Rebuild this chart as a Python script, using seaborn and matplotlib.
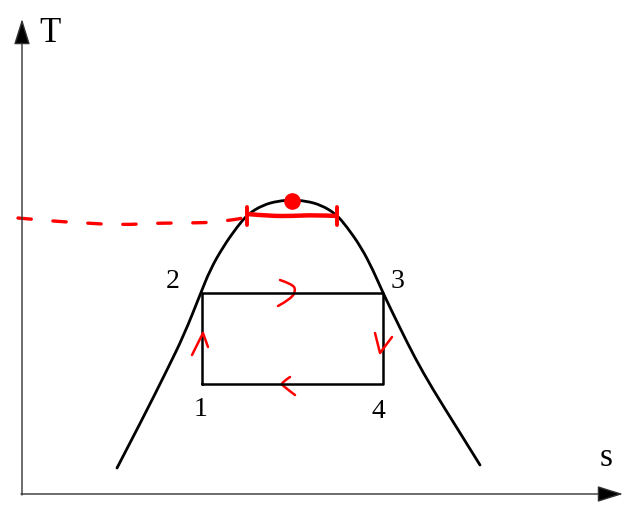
import matplotlib
matplotlib.use('Agg')
import matplotlib.pyplot as plt
from matplotlib.path import Path
from matplotlib.patches import PathPatch
import seaborn as sns
import numpy as np

# dome (saturation curve), pixel coordinates
dome_s = [117, 143, 167, 184, 200, 210, 223, 237, 248, 263, 278, 292, 306, 321, 336, 347, 361, 373, 383, 400, 415, 432, 457, 480]
dome_T = [468, 418, 370, 335, 295, 270, 247, 227, 214, 205, 201, 200, 201, 205, 214, 227, 247, 270, 293, 328, 358, 388, 428, 465]

# cycle 1-2-3-4
cycle_s = [202, 202, 383, 383, 202]
cycle_T = [384, 293, 293, 384, 384]
cycle_labels = ['1', '2', '3', '4']
label_s = [201, 173, 398, 378]
label_T = [410, 281, 281, 411]

# red hand-drawn marks
dash_s = [18, 50, 85, 120, 160, 192, 224, 248]
dash_T = [218, 221, 223, 225, 223, 223, 222, 217]
bar_s = [247, 270, 292, 315, 337]
bar_T = [214, 216, 216, 215, 216]
tick_s = [247, 337]
crit_s, crit_T = 292, 201
curved_glyphs = {
    'top': ([280, 292, 296, 291, 278], [280, 284, 290, 299, 306]),
    'bottom': ([290, 281, 283, 295], [377, 383, 386, 395]),
}
sharp_glyphs = {
    'left': ([192, 203, 208], [355, 333, 347]),
    'right': ([375, 380, 392], [333, 353, 337]),
}


def smooth_path(xs, ys):
    """quadratic bezier through midpoints so the sketch curve has no kinks"""
    pts = np.column_stack([xs, ys]).astype(float)
    verts = [pts[0]]
    codes = [Path.MOVETO]
    for i in range(1, len(pts) - 1):
        mid = (pts[i] + pts[i + 1]) / 2 if i < len(pts) - 2 else pts[i + 1]
        verts += [pts[i], mid]
        codes += [Path.CURVE3, Path.CURVE3]
    return Path(verts, codes)


sns.set_style('white')
plt.rcParams['font.family'] = ['Liberation Serif', 'DejaVu Serif']

fig = plt.figure(figsize=(6.31, 5.20), dpi=100)
ax = fig.add_axes([0, 0, 1, 1])
ax.set_xlim(0, 631)
ax.set_ylim(520, 0)
ax.axis('off')

# axes arrows
arrow = dict(arrowstyle='-|>,head_length=0.8,head_width=0.25', mutation_scale=20,
             lw=1.0, color='#333333', fc='black', shrinkA=0, shrinkB=0)
ax.annotate('', xy=(22, 19), xytext=(22, 495), arrowprops=arrow)
ax.annotate('', xy=(623, 494), xytext=(21, 494), arrowprops=arrow)
ax.text(39, 33, 'T', fontsize=25, ha='left', va='center', color='black')
ax.text(606, 458, 's', fontsize=24, ha='center', va='center', color='black')

# dome and cycle
ax.add_patch(PathPatch(smooth_path(dome_s, dome_T), fc='none', ec='black', lw=2.0,
                       capstyle='round'))
sns.lineplot(x=cycle_s, y=cycle_T, sort=False, estimator=None, color='black', lw=1.8, ax=ax)
for lab, s, t in zip(cycle_labels, label_s, label_T):
    ax.text(s, t, lab, fontsize=20, ha='center', va='center', color='black')

# red annotations
red = '#ff0000'
ax.add_patch(PathPatch(smooth_path(dash_s, dash_T), fc='none', ec=red, lw=2.4,
                       linestyle=(0, (4, 6.5)), capstyle='round'))
ax.add_patch(PathPatch(smooth_path(bar_s, bar_T), fc='none', ec=red, lw=3.2))
for s in tick_s:
    ax.plot([s, s], [207, 225], color=red, lw=2.8)
ax.scatter([crit_s], [crit_T], s=120, color=red, zorder=5)
for xs, ys in curved_glyphs.values():
    ax.add_patch(PathPatch(smooth_path(xs, ys), fc='none', ec=red, lw=1.8,
                           capstyle='round'))
for xs, ys in sharp_glyphs.values():
    ax.plot(xs, ys, color=red, lw=1.8, solid_capstyle='round', solid_joinstyle='round')

plt.savefig('out.png', dpi=100)
plt.close()
